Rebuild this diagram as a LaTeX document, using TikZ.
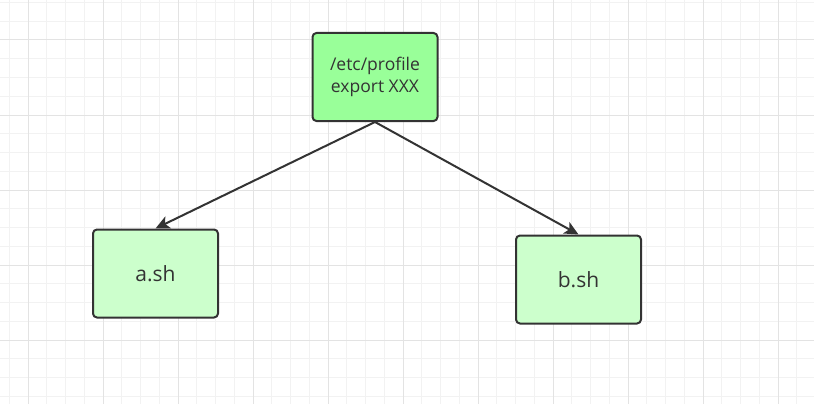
\documentclass[tikz,border=0pt]{standalone}
\usepackage{fontspec}
\setmainfont{Open Sans}
\usetikzlibrary{arrows.meta}

\definecolor{gridminor}{HTML}{F2F2F2}
\definecolor{gridmajor}{HTML}{E3E3E3}
\definecolor{boxline}{HTML}{333333}
\definecolor{envfill}{HTML}{99FF99}
\definecolor{shfill}{HTML}{CCFFCC}

\tikzset{
  shbox/.style={draw=boxline, line width=2pt, rounded corners=4pt, fill=shfill,
    minimum width=125pt, minimum height=88pt, text=boxline, align=center,
    font=\fontsize{21}{25}\selectfont},
  envbox/.style={shbox, fill=envfill, font=\fontsize{17.5}{22}\selectfont},
  link/.style={->, draw=boxline, line width=2pt}
}

\begin{document}
\begin{tikzpicture}[x=1pt,y=-1pt,>={Stealth[length=14pt,width=13pt,inset=3.5pt]}]
  \useasboundingbox[fill=white] (0,0) rectangle (814,404);
  % grid
  \foreach \gx in {9.25,28,...,814} \draw[gridminor, line width=1pt] (\gx,0) -- (\gx,404);
  \foreach \gy in {2.5,21.25,...,404} \draw[gridminor, line width=1pt] (0,\gy) -- (814,\gy);
  \foreach \gx in {28,103,...,814} \draw[gridmajor, line width=1pt] (\gx,0) -- (\gx,404);
  \foreach \gy in {40,115,...,404} \draw[gridmajor, line width=1pt] (0,\gy) -- (814,\gy);

  \node[envbox] (profile) at (375,77)    {/etc/profile\\export XXX};
  \node[shbox]  (ash)     at (155.5,273.5) {a.sh};
  \node[shbox]  (bsh)     at (578.5,279.5) {b.sh};

  \path (profile.south) edge[link] (ash.north)
        (profile.south) edge[link] (bsh.north)
        ;
\end{tikzpicture}
\end{document}
